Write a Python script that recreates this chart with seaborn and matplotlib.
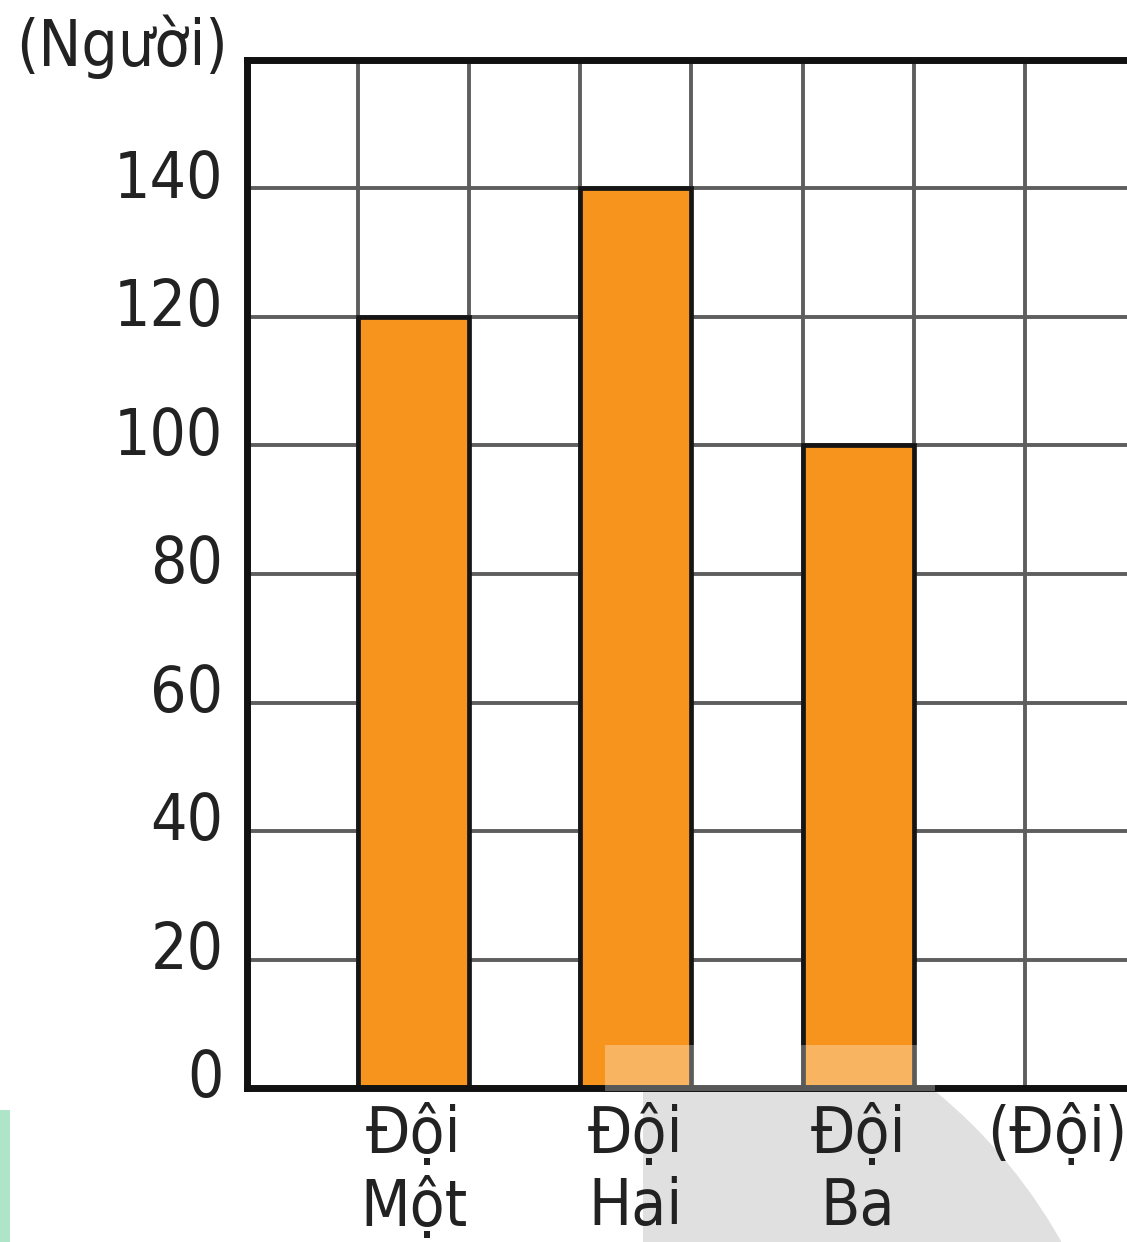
"""
Bar chart: number of people in each team (Đội Một, Đội Hai, Đội Ba)
"""
import pandas as pd
import matplotlib
matplotlib.use("Agg")
import matplotlib.pyplot as plt
from matplotlib import font_manager
from matplotlib.patches import Rectangle, Ellipse
from matplotlib.transforms import ScaledTranslation
import seaborn as sns

# data
teams = ["Đội\nMột", "Đội\nHai", "Đội\nBa"]
people = [120, 140, 100]
y_ticks = [0, 20, 40, 60, 80, 100, 120, 140]
y_label = "(Người)"
x_label = "(Đội)"

W, H = 1127, 1242
BAR_COLOR = "#f7941d"
GRID_COLOR = "#5e5e5e"


def px(x, y):
    """Pixel position (top-left origin) -> figure fraction."""
    return x / W, 1 - y / H


def pick_font():
    # the original uses a narrow Helvetica-like face
    fonts = font_manager.fontManager.ttflist
    names = {f.name for f in fonts}
    if "Liberation Sans Narrow" in names:
        return ["Liberation Sans Narrow", "DejaVu Sans"], "normal", "narrow"
    if any(f.name == "DejaVu Sans" and f.stretch == "condensed" for f in fonts):
        return ["DejaVu Sans"], "condensed", "dejavu-condensed"
    return ["Liberation Sans", "DejaVu Sans"], "normal", "regular"


def draw_chart():
    sns.set_style("white")
    family, stretch, kind = pick_font()
    plt.rcParams["font.family"] = family
    plt.rcParams["font.stretch"] = stretch
    size = 46 if kind != "regular" else 42

    fig = plt.figure(figsize=(W / 100, H / 100), dpi=100)
    left, top = px(247, 60)
    right, bottom = px(W, 1088)
    ax = fig.add_axes([left, bottom, right - left, top - bottom])

    df = pd.DataFrame({"team": teams, "people": people})

    # one empty column before each bar, and one after the last bar
    slots = []
    for i, t in enumerate(teams):
        slots += [f"gap{i}", t]
    slots.append("gap_end")

    sns.barplot(data=df, x="team", y="people", order=slots, width=1,
                color=BAR_COLOR, saturation=1, edgecolor="#151515",
                linewidth=3.4, ax=ax)

    # grid: column boundaries and every 20 people
    ax.set_xticks([k + 0.5 for k in range(len(slots))], minor=True)
    ax.set_xticks([slots.index(t) for t in teams], teams)
    ax.set_yticks(y_ticks)
    ax.set_xlim(-0.5, -0.5 + (W - 247) / 111.1)
    ax.set_ylim(0, 160)
    ax.set_axisbelow(True)
    ax.grid(which="minor", axis="x", color=GRID_COLOR, lw=2.8)
    ax.grid(which="major", axis="y", color=GRID_COLOR, lw=2.8)
    ax.set_xlabel("")
    ax.set_ylabel("")

    for side in ["left", "top", "bottom"]:
        ax.spines[side].set_linewidth(5)
        ax.spines[side].set_color("#111111")
    ax.spines["right"].set_visible(False)

    ax.tick_params(axis="both", which="both", length=0, labelsize=size,
                   labelcolor="#222222")
    ax.tick_params(axis="y", pad=17)
    ax.tick_params(axis="x", pad=11)
    for lbl in ax.get_xticklabels():
        lbl.set_linespacing(1.2)
    # numbers sit a little above their grid lines in the original
    lift = ScaledTranslation(0, 11 / 72, fig.dpi_scale_trans)
    for lbl in ax.get_yticklabels():
        lbl.set_transform(lbl.get_transform() + lift)

    fig.text(*px(16, 66), y_label, fontsize=size, color="#222222",
             ha="left", va="baseline")
    fig.text(*px(1057, 1153), x_label, fontsize=size, color="#222222",
             ha="center", va="baseline")

    # scan artefacts: watermark and green strip
    clip = Rectangle(px(643, H), (W - 643) / W, (H - 1092) / H,
                     transform=fig.transFigure)
    mark = Ellipse(px(600, 1500), 2 * 528 / W, 2 * 528 / H,
                   transform=fig.transFigure, color="#e0e0e0", zorder=-1)
    fig.add_artist(mark)
    mark.set_clip_path(clip)
    fig.add_artist(Rectangle(px(605, 1091), (935 - 605) / W, 46 / H,
                             transform=fig.transFigure, color="white",
                             alpha=0.3, zorder=5, lw=0))
    fig.add_artist(Rectangle(px(0, H), 10 / W, (H - 1110) / H,
                             transform=fig.transFigure, color="#aee5c9",
                             lw=0))
    return fig


def main():
    fig = draw_chart()
    fig.savefig("out.png", dpi=100)


if __name__ == "__main__":
    main()
